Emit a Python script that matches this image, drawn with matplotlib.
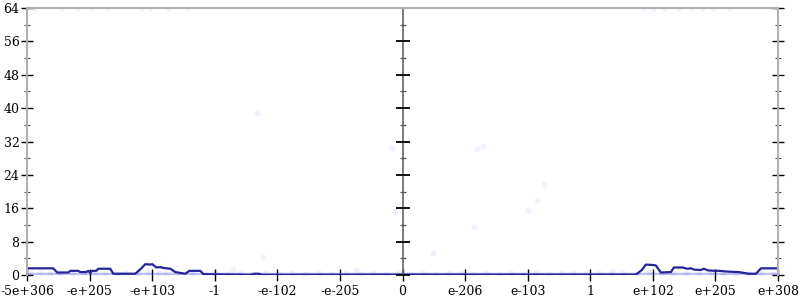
import numpy as np
import matplotlib.pyplot as plt

# tick labels along x (evenly spaced positions 0..12)
tick_labels = ['-5e+306', '-e+205', '-e+103', '-1', '-e-102', '-e-205', '0',
               'e-206', 'e-103', '1', 'e+102', 'e+205', 'e+308']

# average error line, x in pixel-ish units
line_px = [27, 53, 57, 68, 70, 78, 80, 86, 88, 90, 92, 96, 98, 110, 113, 135,
           141, 145, 150, 152, 156, 160, 163, 170, 175, 185, 189, 200, 203, 250,
           254, 258, 262, 400, 560, 635, 641, 645, 652, 655, 660, 670, 673, 682,
           686, 690, 693, 700, 703, 707, 715, 718, 728, 738, 748, 755, 760, 778]
line_err = [1.6, 1.6, 0.6, 0.6, 1.0, 1.0, 0.7, 0.7, 1.0, 0.5, 1.0, 1.0, 1.5, 1.5, 0.3, 0.3,
            1.6, 2.6, 2.5, 2.6, 1.8, 1.9, 1.7, 1.5, 0.7, 0.3, 1.0, 1.0, 0.2, 0.05,
            0.3, 0.3, 0.05, 0.1, 0.1, 0.1, 1.2, 2.5, 2.4, 2.3, 0.6, 0.7, 1.8, 1.8,
            1.5, 1.6, 1.3, 1.2, 1.5, 1.1, 1.0, 1.0, 0.8, 0.7, 0.3, 0.3, 1.6, 1.6]

# faint individual samples
pts_px = [257, 391, 394, 263, 476, 482, 543, 536, 527, 473, 432, 233, 355, 611]
pts_err = [38.8, 30.4, 15.0, 4.3, 30.2, 30.9, 21.8, 18.0, 15.6, 11.5, 5.3, 1.5, 1.2, 1.0]
top_px = [35, 62, 78, 92, 108, 142, 150, 168, 188, 642, 652, 663, 678, 690, 702, 712, 728]
low_px = [30, 40, 50, 60, 72, 84, 95, 105, 118, 125, 138, 148, 158, 165, 178, 192, 205,
          215, 228, 240, 252, 265, 280, 292, 305, 318, 330, 345, 360, 372, 385, 398, 410,
          422, 435, 448, 460, 472, 485, 498, 510, 522, 535, 548, 560, 572, 585, 598, 610,
          622, 635, 648, 660, 672, 685, 698, 710, 722, 735, 748, 760, 772]
low_err = [0.4, 0.6, 0.3, 0.5, 0.2, 0.6, 0.3, 0.5, 0.2, 0.4, 0.6, 0.8, 0.5, 0.3, 0.4, 0.2, 0.3,
           0.5, 0.2, 0.4, 0.3, 0.6, 0.2, 0.4, 0.3, 0.5, 0.2, 0.4, 0.3, 0.5, 0.2, 0.6, 0.3,
           0.5, 0.2, 0.4, 0.6, 0.3, 0.5, 0.2, 0.4, 0.3, 0.5, 0.2, 0.4, 0.6, 0.3, 0.5, 0.2,
           0.4, 0.3, 0.8, 0.5, 0.3, 0.4, 0.2, 0.5, 0.3, 0.6, 0.2, 0.4, 0.3]

def u(px):
    return (np.array(px, dtype=float) - 27) / 62.5

plt.rcParams['font.family'] = 'DejaVu Serif'
fig = plt.figure(figsize=(8, 3), dpi=100)
ax = fig.add_axes([0.034, 0.0833, 0.9385, 0.89])

ax.scatter(u(low_px), low_err, s=18, color='#3030ff', alpha=0.08, linewidths=0)
ax.scatter(u(pts_px), pts_err, s=18, color='#3030ff', alpha=0.07, linewidths=0)
ax.scatter(u(top_px), [64] * len(top_px), s=18, color='#3030ff', alpha=0.07, linewidths=0)
ax.plot(u([27, 778]), [0.15, 0.15], color='#4848e0', alpha=0.35, lw=2.5)
ax.plot(u(line_px), line_err, color='#25259a', lw=1.6, solid_joinstyle='round')

ax.set_xlim(0, 12)
ax.set_ylim(0, 64)
ax.set_xticks(range(13))
ax.set_xticklabels(tick_labels)
ax.set_yticks(range(0, 65, 8))
ax.set_yticks(range(0, 65, 4), minor=True)
ax.tick_params(axis='both', which='major', direction='inout', length=9, width=1,
               labelsize=9, pad=1, color='black')
ax.tick_params(axis='y', which='minor', direction='inout', length=5, width=0.8, color='#555555')
ax.tick_params(axis='y', which='both', right=True)
ax.tick_params(axis='x', pad=3)

for side in ['left', 'right', 'top', 'bottom']:
    ax.spines[side].set_color('#b0b0b0')
    ax.spines[side].set_linewidth(1.5)
ax.spines['bottom'].set_visible(False)

# middle axis at zero
ax.axvline(6, color='#666666', lw=1.2)
ax.plot([6] * 9, range(0, 65, 8), marker='_', ms=10, mew=1.3, color='black', ls='none', clip_on=False)
ax.plot([6] * 8, range(4, 65, 8), marker='_', ms=5, mew=0.9, color='#555555', ls='none', clip_on=False)

fig.savefig('out.png', dpi=100)
